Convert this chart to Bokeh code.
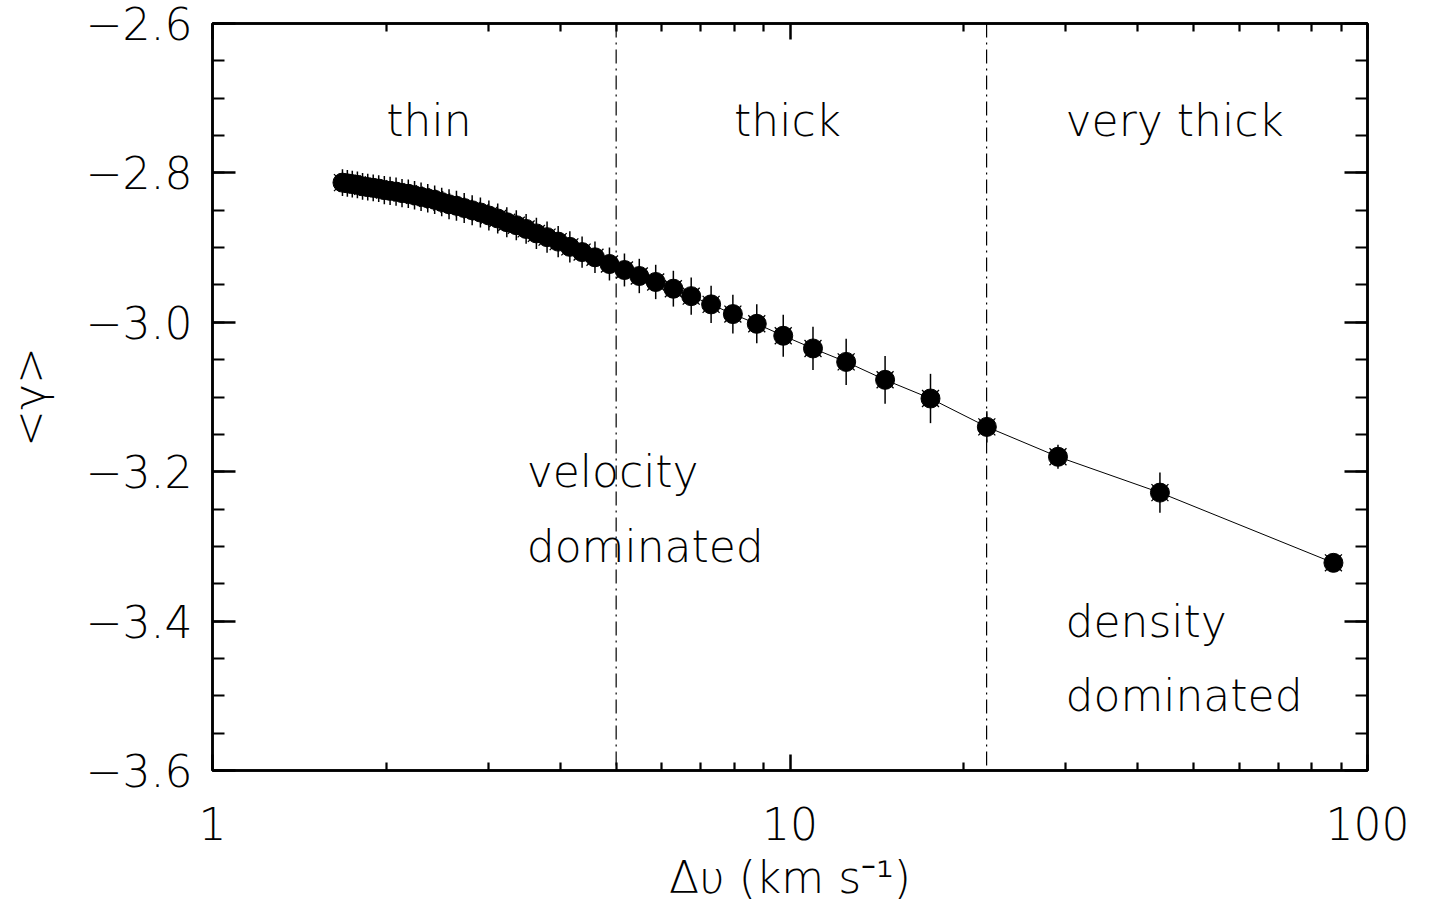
from bokeh.plotting import figure
from bokeh.models import (FixedTicker, LinearAxis, LogAxis, Span, CustomJSTickFormatter,
                          ColumnDataSource, Range1d)
from bokeh.core.properties import value
from bokeh.embed import file_html
from bokeh.resources import INLINE

# ---------------- data ----------------
dv = [1.679, 1.712, 1.746, 1.782, 1.819, 1.857, 1.898, 1.940, 1.984, 2.030,
      2.079, 2.129, 2.183, 2.238, 2.297, 2.359, 2.425, 2.494, 2.568, 2.645,
      2.728, 2.816, 2.910, 3.010, 3.118, 3.233, 3.358, 3.492, 3.638, 3.796,
      3.968, 4.157, 4.365, 4.595, 4.868, 5.168, 5.483, 5.854, 6.281, 6.744,
      7.301, 7.963, 8.759, 9.734, 10.96, 12.51, 14.61, 17.51, 21.92, 29.11,
      43.71, 87.3]
gamma = [-2.813, -2.814, -2.815, -2.816, -2.818, -2.819, -2.820, -2.821, -2.823, -2.824,
         -2.825, -2.827, -2.828, -2.830, -2.832, -2.834, -2.836, -2.839, -2.842, -2.844,
         -2.847, -2.850, -2.853, -2.857, -2.861, -2.866, -2.870, -2.875, -2.881, -2.886,
         -2.892, -2.899, -2.906, -2.913, -2.922, -2.930, -2.938, -2.946, -2.955, -2.965,
         -2.976, -2.989, -3.002, -3.018, -3.035, -3.053, -3.077, -3.102, -3.140, -3.180,
         -3.228, -3.322]
gamma_err = [0.018, 0.018, 0.018, 0.018, 0.018, 0.018, 0.018, 0.018, 0.019, 0.019,
             0.019, 0.019, 0.019, 0.019, 0.019, 0.019, 0.019, 0.019, 0.020, 0.020,
             0.020, 0.020, 0.020, 0.020, 0.020, 0.020, 0.020, 0.020, 0.021, 0.021,
             0.021, 0.021, 0.021, 0.021, 0.022, 0.022, 0.023, 0.023, 0.024, 0.025,
             0.025, 0.026, 0.026, 0.028, 0.029, 0.031, 0.032, 0.033, 0.021, 0.016,
             0.027, 0.010]

regime_bounds = [5.0, 21.9]

region_labels = ["thin", "thick", "very thick", "velocity", "dominated", "density", "dominated"]
region_label_x = [2.0, 8.0, 30.0, 3.5, 3.5, 30.0, 30.0]
region_label_y = [-2.73, -2.73, -2.73, -3.2, -3.3, -3.4, -3.5]

x_major_ticks = [1, 10, 100]
x_minor_ticks = [2, 3, 4, 5, 6, 7, 8, 9, 20, 30, 40, 50, 60, 70, 80, 90]
y_major_ticks = [-3.6, -3.4, -3.2, -3.0, -2.8, -2.6]
y_minor_ticks = [round(-3.6 + 0.05 * i, 2) for i in range(21)]

FONT = "DejaVu Sans Light"
FS = "44px"

# ---------------- figure ----------------
p = figure(width=1420, height=905, x_axis_type="log",
           x_range=Range1d(1, 100), y_range=Range1d(-3.6, -2.6),
           output_backend="svg", toolbar_location=None,
           min_border_left=205, min_border_right=53,
           min_border_top=23, min_border_bottom=134)
p.background_fill_color = "white"
p.border_fill_color = "white"
p.outline_line_color = "black"
p.outline_line_width = 2.5
p.xgrid.visible = False
p.ygrid.visible = False

xticker = FixedTicker(ticks=x_major_ticks, minor_ticks=x_minor_ticks)
yticker = FixedTicker(ticks=y_major_ticks, minor_ticks=y_minor_ticks)

bottom = p.below[0]
left = p.left[0]
bottom.ticker = xticker
left.ticker = yticker
bottom.formatter = CustomJSTickFormatter(code="return tick.toFixed(0);")
left.formatter = CustomJSTickFormatter(
    code="return (tick < 0 ? '\u2212' : '') + Math.abs(tick).toFixed(1);")

blank = CustomJSTickFormatter(code="return '';")
right = LinearAxis(ticker=yticker, formatter=blank)
top = LogAxis(ticker=xticker, formatter=blank)
p.add_layout(right, "right")
p.add_layout(top, "above")


def style_axis(ax, major_in, minor_in):
    ax.axis_line_color = "black"
    ax.axis_line_width = 2.5
    ax.major_tick_line_color = "black"
    ax.major_tick_line_width = 2.5
    ax.minor_tick_line_color = "black"
    ax.minor_tick_line_width = 2.2
    ax.major_tick_out = 0
    ax.minor_tick_out = 0
    ax.major_tick_in = major_in
    ax.minor_tick_in = minor_in
    ax.major_label_text_font = FONT
    ax.major_label_text_font_size = FS
    ax.major_label_text_color = "black"
    ax.axis_label_text_font = FONT
    ax.axis_label_text_font_size = FS
    ax.axis_label_text_font_style = "normal"
    ax.axis_label_text_color = "black"


style_axis(bottom, 16, 8)
style_axis(top, 16, 8)
style_axis(left, 23, 12)
style_axis(right, 23, 12)

for ax in (top, right):
    ax.major_label_text_font_size = "0px"
    ax.major_label_standoff = 0

bottom.major_label_standoff = 36
bottom.axis_label = "Δυ (km s⁻¹)"
bottom.axis_label_standoff = 9
left.major_label_standoff = 20
left.axis_label = "<γ>"
left.axis_label_standoff = 28

# ---------------- glyphs ----------------
src = ColumnDataSource(dict(
    x=dv, y=gamma,
    lo=[g - e for g, e in zip(gamma, gamma_err)],
    hi=[g + e for g, e in zip(gamma, gamma_err)],
))

for b in regime_bounds:
    p.add_layout(Span(location=b, dimension="height", line_color="black",
                      line_width=1.2, line_dash="14 5 2 5"))

p.line("x", "y", source=src, line_color="black", line_width=1)
p.segment(x0="x", y0="lo", x1="x", y1="hi", source=src,
          line_color="black", line_width=1.5)
p.scatter("x", "y", source=src, marker="x", size=24,
          line_color="black", line_width=1.3)
p.scatter("x", "y", source=src, marker="circle", size=19,
          fill_color="black", line_color="black")

p.text(x=region_label_x, y=region_label_y, text=region_labels,
       text_font=value(FONT), text_font_size=FS, text_color="black",
       text_align="left", text_baseline="alphabetic")

open("out.html", "w").write(file_html(p, INLINE))
